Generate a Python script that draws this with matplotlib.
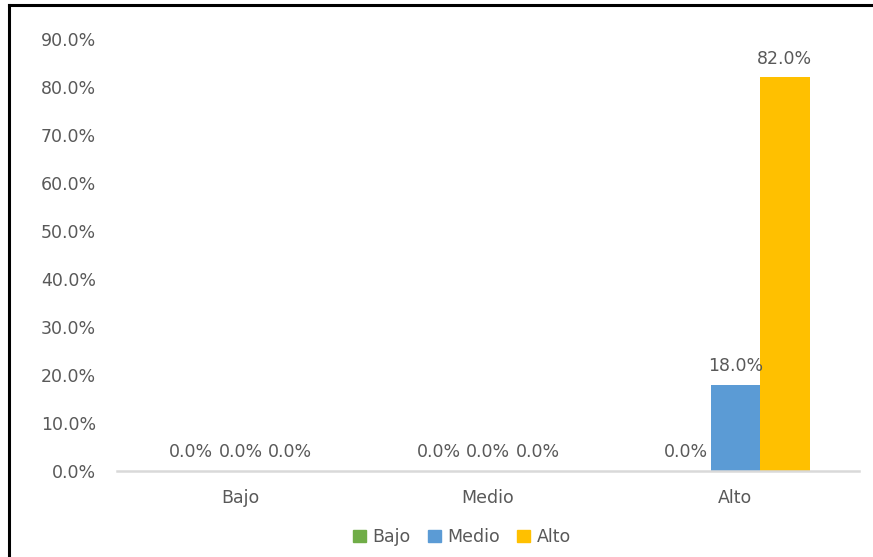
import matplotlib
matplotlib.use("Agg")
import matplotlib.pyplot as plt
from matplotlib.lines import Line2D
from matplotlib.patches import Patch
import numpy as np

categories = ["Bajo", "Medio", "Alto"]
series_names = ["Bajo", "Medio", "Alto"]
bajo_vals = [0.0, 0.0, 0.0]
medio_vals = [0.0, 0.0, 18.0]
alto_vals = [0.0, 0.0, 82.0]
y_ticks = [0, 10, 20, 30, 40, 50, 60, 70, 80, 90]
colors = ["#70AD47", "#5B9BD5", "#FFC000"]
text_color = "#595959"

plt.rcParams['font.family'] = ['DejaVu Sans']
FS = 12.5

W, H = 873, 557
fig = plt.figure(figsize=(W / 100, H / 100), dpi=100)
ax = fig.add_axes([117 / W, 1 - 471 / H, (859 - 117) / W, (471 - 39) / H])

x = np.arange(len(categories))
width = 0.2
all_vals = [bajo_vals, medio_vals, alto_vals]
for i, (vals, name, c) in enumerate(zip(all_vals, series_names, colors)):
    pos = x + (i - 1) * width
    ax.bar(pos, vals, width=width, color=c, label=name, zorder=2)
    for p, v in zip(pos, vals):
        ax.text(p, v + 2.0, f"{v:.1f}%", ha="center", va="bottom",
                fontsize=FS, color=text_color)

ax.set_xlim(-0.5, 2.5)
ax.set_ylim(0, 90)
ax.set_yticks(y_ticks)
ax.set_yticklabels([f"{t:.1f}%" for t in y_ticks], fontsize=FS, color=text_color)
ax.set_xticks(x)
ax.set_xticklabels(categories, fontsize=FS, color=text_color)
ax.tick_params(axis="both", length=0)
ax.tick_params(axis="y", pad=15)
ax.tick_params(axis="x", pad=13)
for s in ["top", "right", "left"]:
    ax.spines[s].set_visible(False)
ax.spines["bottom"].set_color("#D9D9D9")
ax.spines["bottom"].set_linewidth(1.8)

handles = [Patch(color=c, label=n) for c, n in zip(colors, series_names)]
fig.legend(handles=handles, loc="center", bbox_to_anchor=(462 / W, 1 - 537 / H),
           ncol=3, frameon=False, fontsize=FS, handlelength=0.75, handleheight=0.75,
           handletextpad=0.35, columnspacing=1.0, labelcolor=text_color)

# outer border (top and left visible)
fig.add_artist(Line2D([9 / W, 1.0], [1 - 5 / H, 1 - 5 / H], color="black", lw=2.2,
                      transform=fig.transFigure))
fig.add_artist(Line2D([9 / W, 9 / W], [0, 1 - 5 / H], color="black", lw=2.2,
                      transform=fig.transFigure))

fig.savefig("out.png", dpi=100)
